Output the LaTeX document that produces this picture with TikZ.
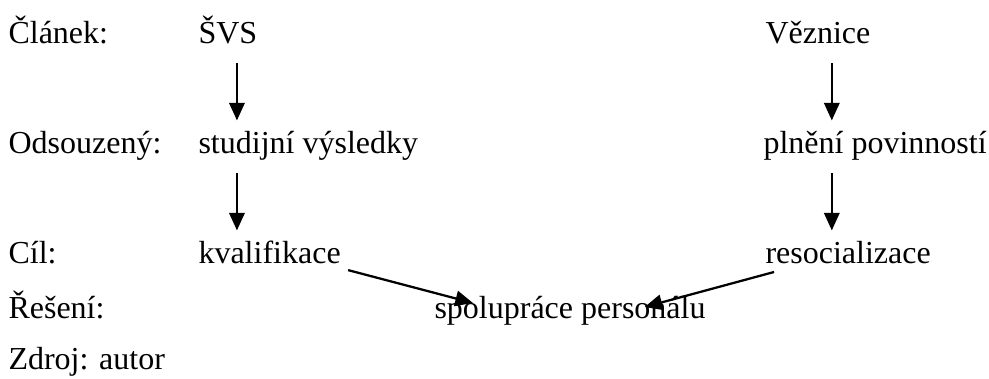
\documentclass[tikz,border=0pt]{standalone}
\usepackage{fontspec}
\setmainfont{Liberation Serif}
\usetikzlibrary{arrows.meta}
\tikzset{
  txt/.style={anchor=base west, inner xsep=0pt, inner ysep=4.5pt,
    text height=7.9pt, text depth=2.6pt, font=\fontsize{12}{14}\selectfont},
  arr/.style={line width=0.85pt, -{Triangle[length=6.6pt,width=5.8pt]}}}

\begin{document}
\begin{tikzpicture}[
  x=0.375pt,
  y=-0.375pt]
\useasboundingbox (0,0) rectangle (989,379);
\begin{scope}[every node/.style={txt}]
\draw
  (8,44) node (clanek) {Článek:}
  (198,44) node (svs) {ŠVS}
  (765,44) node (veznice) {Věznice}
  (8,154) node (odsouzeny) {Odsouzený:}
  (198,154) node (vysledky) {studijní výsledky}
  (763,154) node (povinnosti) {plnění povinností}
  (8,264) node (cil) {Cíl:}
  (198,264) node (kval) {kvalifikace}
  (765,264) node (resoc) {resocializace}
  (8,319) node (reseni) {Řešení:}
  (434,319) node (spol) {spolupráce personálu}
  (8,370) node (zdroj) {Zdroj: autor}
  ;
  \end{scope}
\draw[arr] ([xshift=3.4pt]svs.south) -- ([xshift=3.4pt]svs.south |- vysledky.north);
\draw[arr] ([xshift=3.4pt]svs.south |- vysledky.south) -- ([xshift=3.4pt]svs.south |- kval.north);
\draw[arr] ([xshift=5.2pt]veznice.south) -- ([xshift=5.2pt]veznice.south |- povinnosti.north);
\draw[arr] ([xshift=5.2pt]veznice.south |- povinnosti.south) -- ([xshift=5.2pt]veznice.south |- resoc.north);
\draw[arr] ([xshift=2.6pt,yshift=-2.3pt]kval.base east) -- ([xshift=14.6pt,yshift=6pt]spol.base west);
\draw[arr] ([xshift=3.4pt,yshift=-3pt]resoc.base west) -- ([xshift=79pt,yshift=4.5pt]spol.base west);
\end{tikzpicture}
\end{document}
